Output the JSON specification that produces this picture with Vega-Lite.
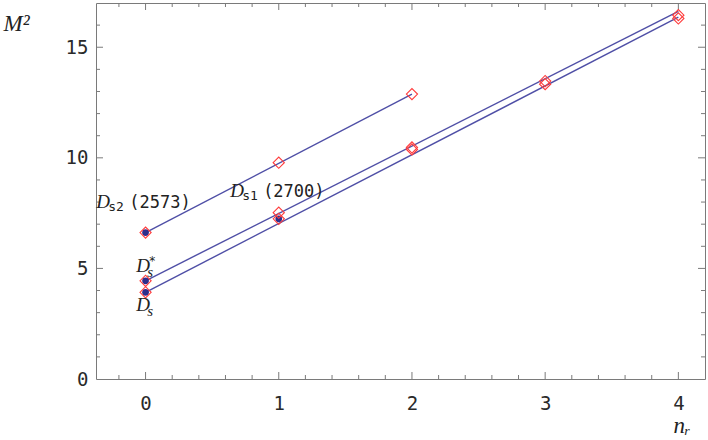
{
  "$schema": "https://vega.github.io/schema/vega-lite/v6.json",
  "width": 609,
  "height": 376,
  "autosize": "none",
  "padding": {"left": 96, "top": 3, "right": 3, "bottom": 61},
  "config": {
    "view": {"stroke": "#7a7a7a", "strokeWidth": 1},
    "axis": {
      "grid": false,
      "domain": false,
      "ticks": false,
      "labelFont": "DejaVu Sans Mono",
      "labelFontSize": 19,
      "labelColor": "#2a2a2a",
      "labelFlush": false,
      "labelOverlap": false
    }
  },
  "datasets": {
    "fits": [
      {"traj": "Ds2", "n": 0, "m2": 6.62},
      {"traj": "Ds2", "n": 2, "m2": 12.88},
      {"traj": "Dsstar", "n": 0, "m2": 4.44},
      {"traj": "Dsstar", "n": 4, "m2": 16.62},
      {"traj": "Ds", "n": 0, "m2": 3.92},
      {"traj": "Ds", "n": 4, "m2": 16.36}
    ],
    "theory": [
      {"traj": "Ds2", "n": 0, "m2": 6.62},
      {"traj": "Ds2", "n": 1, "m2": 9.78},
      {"traj": "Ds2", "n": 2, "m2": 12.88},
      {"traj": "Dsstar", "n": 0, "m2": 4.44},
      {"traj": "Dsstar", "n": 1, "m2": 7.52},
      {"traj": "Dsstar", "n": 2, "m2": 10.47},
      {"traj": "Dsstar", "n": 3, "m2": 13.47},
      {"traj": "Dsstar", "n": 4, "m2": 16.45},
      {"traj": "Ds", "n": 0, "m2": 3.92},
      {"traj": "Ds", "n": 1, "m2": 7.24},
      {"traj": "Ds", "n": 2, "m2": 10.38},
      {"traj": "Ds", "n": 3, "m2": 13.33},
      {"traj": "Ds", "n": 4, "m2": 16.3}
    ],
    "experiment": [
      {"state": "Ds2(2573)", "n": 0, "m2": 6.62},
      {"state": "Ds*", "n": 0, "m2": 4.44},
      {"state": "Ds", "n": 0, "m2": 3.92},
      {"state": "Ds1(2700)", "n": 1, "m2": 7.24}
    ],
    "labels": [
      {"id": "Ds2", "x": -0.37, "y": 7.75, "main": "D", "sub": "s2", "rest": "(2573)", "sup": "", "math": false},
      {"id": "Ds1", "x": 0.635, "y": 8.24, "main": "D", "sub": "s1", "rest": "(2700)", "sup": "", "math": false},
      {"id": "Dsstar", "x": -0.07, "y": 4.86, "main": "D", "sub": "s", "rest": "", "sup": "*", "math": true},
      {"id": "Ds", "x": -0.07, "y": 3.08, "main": "D", "sub": "s", "rest": "", "sup": "", "math": true}
    ],
    "xticks": [
      {"v": -0.2, "kind": "minor"}, {"v": 0, "kind": "major"}, {"v": 0.2, "kind": "minor"}, {"v": 0.4, "kind": "minor"},
      {"v": 0.6, "kind": "minor"}, {"v": 0.8, "kind": "minor"}, {"v": 1, "kind": "major"}, {"v": 1.2, "kind": "minor"},
      {"v": 1.4, "kind": "minor"}, {"v": 1.6, "kind": "minor"}, {"v": 1.8, "kind": "minor"}, {"v": 2, "kind": "major"},
      {"v": 2.2, "kind": "minor"}, {"v": 2.4, "kind": "minor"}, {"v": 2.6, "kind": "minor"}, {"v": 2.8, "kind": "minor"},
      {"v": 3, "kind": "major"}, {"v": 3.2, "kind": "minor"}, {"v": 3.4, "kind": "minor"}, {"v": 3.6, "kind": "minor"},
      {"v": 3.8, "kind": "minor"}, {"v": 4, "kind": "major"}
    ],
    "yticks": [
      {"v": 1, "kind": "minor"}, {"v": 2, "kind": "minor"}, {"v": 3, "kind": "minor"}, {"v": 4, "kind": "minor"},
      {"v": 5, "kind": "major"}, {"v": 6, "kind": "minor"}, {"v": 7, "kind": "minor"}, {"v": 8, "kind": "minor"},
      {"v": 9, "kind": "minor"}, {"v": 10, "kind": "major"}, {"v": 11, "kind": "minor"}, {"v": 12, "kind": "minor"},
      {"v": 13, "kind": "minor"}, {"v": 14, "kind": "minor"}, {"v": 15, "kind": "major"}, {"v": 16, "kind": "minor"}
    ]
  },
  "layer": [
    {
      "data": {"name": "fits"},
      "mark": {"type": "line", "color": "#4f4fa6", "strokeWidth": 1.4, "clip": true},
      "encoding": {
        "x": {
          "field": "n", "type": "quantitative",
          "scale": {"domain": [-0.372, 4.2], "nice": false, "zero": false},
          "axis": {
            "orient": "bottom",
            "values": [0, 1, 2, 3, 4],
            "format": "d",
            "labelPadding": 15,
            "title": "nᵣ",
            "titleFont": "Liberation Serif",
            "titleFontStyle": "italic",
            "titleFontWeight": "normal",
            "titleFontSize": 23,
            "titleColor": "#222222",
            "titleAlign": "left",
            "titleBaseline": "alphabetic",
            "titleX": 577,
            "titleY": 53
          }
        },
        "y": {
          "field": "m2", "type": "quantitative",
          "scale": {"domain": [0, 17], "nice": false},
          "axis": {
            "orient": "left",
            "values": [0, 5, 10, 15],
            "format": "d",
            "labelPadding": 8,
            "title": "M²",
            "titleFont": "Liberation Serif",
            "titleFontStyle": "italic",
            "titleFontWeight": "normal",
            "titleFontSize": 23,
            "titleColor": "#222222",
            "titleAngle": 0,
            "titleAlign": "left",
            "titleBaseline": "alphabetic",
            "titleX": -93,
            "titleY": 27
          }
        },
        "detail": {"field": "traj", "type": "nominal"}
      }
    },
    {
      "data": {"name": "xticks"},
      "mark": {"type": "tick", "orient": "vertical", "color": "#7a7a7a", "thickness": 1, "opacity": 1, "clip": true},
      "encoding": {
        "x": {"field": "v", "type": "quantitative"},
        "y": {"datum": 0, "type": "quantitative"},
        "size": {"field": "kind", "type": "ordinal", "scale": {"domain": ["major", "minor"], "range": [14, 8]}, "legend": null}
      }
    },
    {
      "data": {"name": "xticks"},
      "mark": {"type": "tick", "orient": "vertical", "color": "#7a7a7a", "thickness": 1, "opacity": 1, "clip": true},
      "encoding": {
        "x": {"field": "v", "type": "quantitative"},
        "y": {"datum": 17, "type": "quantitative"},
        "size": {"field": "kind", "type": "ordinal", "scale": {"domain": ["major", "minor"], "range": [14, 8]}, "legend": null}
      }
    },
    {
      "data": {"name": "yticks"},
      "mark": {"type": "tick", "orient": "horizontal", "color": "#7a7a7a", "thickness": 1, "opacity": 1, "clip": true},
      "encoding": {
        "y": {"field": "v", "type": "quantitative"},
        "x": {"datum": -0.372, "type": "quantitative"},
        "size": {"field": "kind", "type": "ordinal", "scale": {"domain": ["major", "minor"], "range": [14, 8]}, "legend": null}
      }
    },
    {
      "data": {"name": "yticks"},
      "mark": {"type": "tick", "orient": "horizontal", "color": "#7a7a7a", "thickness": 1, "opacity": 1, "clip": true},
      "encoding": {
        "y": {"field": "v", "type": "quantitative"},
        "x": {"datum": 4.2, "type": "quantitative"},
        "size": {"field": "kind", "type": "ordinal", "scale": {"domain": ["major", "minor"], "range": [14, 8]}, "legend": null}
      }
    },
    {
      "data": {"name": "experiment"},
      "mark": {"type": "point", "shape": "circle", "filled": true, "color": "#2e2e8c", "size": 45, "opacity": 1},
      "encoding": {
        "x": {"field": "n", "type": "quantitative"},
        "y": {"field": "m2", "type": "quantitative"}
      }
    },
    {
      "data": {"name": "theory"},
      "mark": {"type": "point", "shape": "diamond", "filled": false, "color": "#ff3b3b", "strokeWidth": 1.1, "opacity": 1},
      "encoding": {
        "x": {"field": "n", "type": "quantitative"},
        "y": {"field": "m2", "type": "quantitative"},
        "size": {"value": 125}
      }
    },
    {
      "data": {"name": "labels"},
      "mark": {"type": "text", "font": "Liberation Serif", "fontStyle": "italic", "fontSize": 19, "align": "left", "baseline": "alphabetic", "color": "#222222"},
      "encoding": {
        "x": {"field": "x", "type": "quantitative"},
        "y": {"field": "y", "type": "quantitative"},
        "text": {"field": "main"}
      }
    },
    {
      "data": {"name": "labels"},
      "transform": [{"filter": "!datum.math"}],
      "mark": {"type": "text", "font": "DejaVu Sans Mono", "fontSize": 13, "align": "left", "baseline": "alphabetic", "dx": 12, "dy": 3, "color": "#222222"},
      "encoding": {
        "x": {"field": "x", "type": "quantitative"},
        "y": {"field": "y", "type": "quantitative"},
        "text": {"field": "sub"}
      }
    },
    {
      "data": {"name": "labels"},
      "transform": [{"filter": "datum.math"}],
      "mark": {"type": "text", "font": "Liberation Serif", "fontStyle": "italic", "fontSize": 15, "align": "left", "baseline": "alphabetic", "dx": 11, "dy": 5, "color": "#222222"},
      "encoding": {
        "x": {"field": "x", "type": "quantitative"},
        "y": {"field": "y", "type": "quantitative"},
        "text": {"field": "sub"}
      }
    },
    {
      "data": {"name": "labels"},
      "transform": [{"filter": "datum.sup != ''"}],
      "mark": {"type": "text", "font": "DejaVu Sans", "fontSize": 12, "align": "left", "baseline": "alphabetic", "dx": 13, "dy": -7, "color": "#222222"},
      "encoding": {
        "x": {"field": "x", "type": "quantitative"},
        "y": {"field": "y", "type": "quantitative"},
        "text": {"field": "sup"}
      }
    },
    {
      "data": {"name": "labels"},
      "transform": [{"filter": "datum.rest != ''"}],
      "mark": {"type": "text", "font": "DejaVu Sans Mono", "fontSize": 17, "align": "left", "baseline": "alphabetic", "dx": 33, "color": "#222222"},
      "encoding": {
        "x": {"field": "x", "type": "quantitative"},
        "y": {"field": "y", "type": "quantitative"},
        "text": {"field": "rest"}
      }
    }
  ]
}
